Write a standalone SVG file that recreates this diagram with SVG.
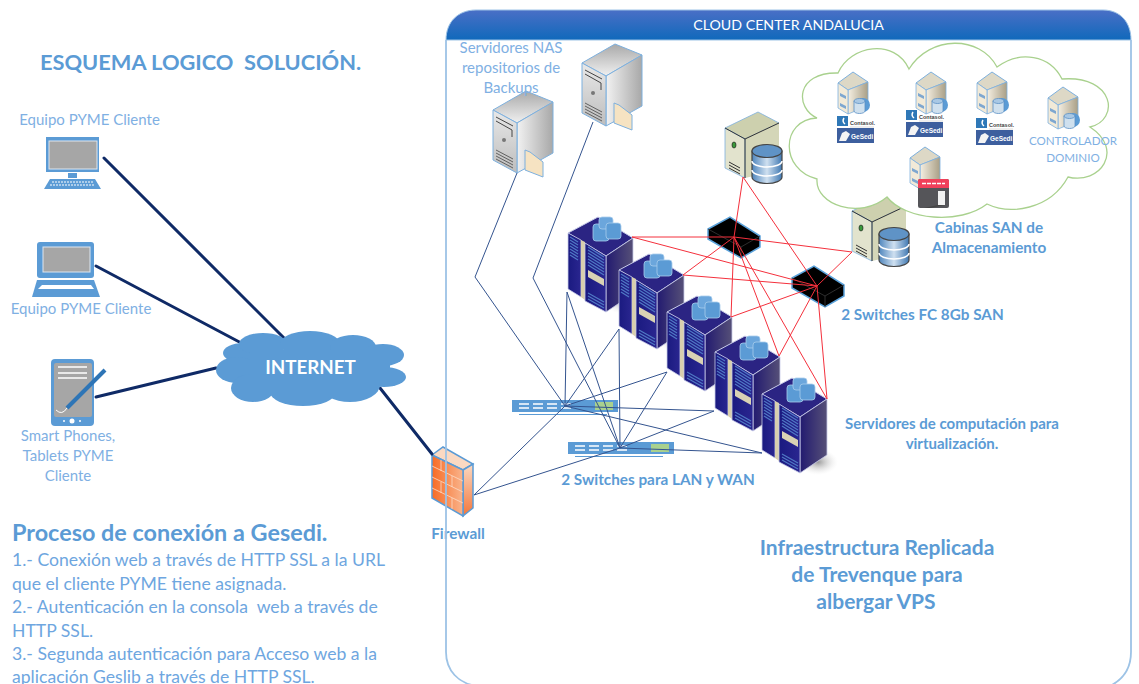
<svg xmlns="http://www.w3.org/2000/svg" width="1139" height="684" viewBox="0 0 1139 684">
<style>
text{font-family:"Lato","Liberation Sans",sans-serif;white-space:pre}
.h{fill:#5b9bd5;font-weight:700}
.b{fill:#5b9bd5;font-weight:700;font-size:15.300px;text-anchor:middle}
.l{fill:#7fb0e3;font-size:15px;text-anchor:middle}
.p{fill:#6ea6e0;font-size:17.600px}
.thick{stroke:#0f2a66;stroke-width:3;fill:none;stroke-linecap:round}
.blue{stroke:#34548f;stroke-width:1;fill:none}
.red{stroke:#f4303c;stroke-width:1;fill:none}
.gw{fill:#5b9bd5}
.scr{fill:#a6a6a6;stroke:#dde6f0;stroke-width:1}
</style>
<defs>
<linearGradient id="hdr" x1="0" y1="0" x2="0" y2="1"><stop offset="0" stop-color="#4a6fc6"/><stop offset="1" stop-color="#1069bb"/></linearGradient>
<linearGradient id="rf" x1="0" y1="0" x2="1" y2="0"><stop offset="0" stop-color="#1a1a80"/><stop offset="1" stop-color="#2a2690"/></linearGradient>
<linearGradient id="rs" x1="0" y1="0" x2="1" y2="0"><stop offset="0" stop-color="#221a70"/><stop offset="1" stop-color="#565078"/></linearGradient>
<linearGradient id="sv" x1="0" y1="0" x2="1" y2="0"><stop offset="0" stop-color="#f2f2f2"/><stop offset="1" stop-color="#a8a8a8"/></linearGradient>
<linearGradient id="svt" x1="0" y1="0" x2="0" y2="1"><stop offset="0" stop-color="#a9a9a9"/><stop offset="1" stop-color="#f0f0f0"/></linearGradient>
<linearGradient id="svf" x1="0" y1="0" x2="0" y2="1"><stop offset="0" stop-color="#e8e8e8"/><stop offset="1" stop-color="#bdbdbd"/></linearGradient>
<linearGradient id="fw" x1="0" y1="0" x2="1" y2="0"><stop offset="0" stop-color="#f76b25"/><stop offset="1" stop-color="#f9b48c"/></linearGradient>
<linearGradient id="fws" x1="0" y1="0" x2="0" y2="1"><stop offset="0" stop-color="#fbd9c2"/><stop offset="1" stop-color="#f2763a"/></linearGradient>
<linearGradient id="cyl" x1="0" y1="0" x2="1" y2="0"><stop offset="0" stop-color="#4f86bd"/><stop offset=".5" stop-color="#cfe0f0"/><stop offset="1" stop-color="#3f78b2"/></linearGradient>
<linearGradient id="ss" x1="0" y1="0" x2="1" y2="0"><stop offset="0" stop-color="#f5efe2"/><stop offset="1" stop-color="#a99f86"/></linearGradient>
<radialGradient id="shd"><stop offset="0" stop-color="#9a9a9a"/><stop offset="1" stop-color="#e8e8e8" stop-opacity="0"/></radialGradient>

<g id="rack">
<ellipse cx="56" cy="68" rx="20" ry="13" fill="url(#shd)"/>
<path d="M0,0 30,-16 65,5 38,23 Z" fill="#2b2483" stroke="#c8cce8" stroke-width="1"/>
<path d="M38,23 65,5 65,61 38,79 Z" fill="url(#rs)" stroke="#c8cce8" stroke-width=".8"/>
<path d="M0,0 13,7 13,64 0,56 Z" fill="url(#rf)" stroke="#c8cce8" stroke-width=".8"/>
<path d="M13,7 17,9 17,67 13,64 Z" fill="#d8cfae"/>
<path d="M17,10 38,23 38,79 17,68 Z" fill="url(#rf)" stroke="#c8cce8" stroke-width=".8"/>
<path d="M2,4 10,9 M2,7 10,12 M2,10 10,15 M2,13 10,18 M2,16 10,21 M2,19 10,24 M2,22 10,27 M20,14 36,24 M20,17 36,27 M20,20 36,30 M20,23 36,33 M20,26 36,36 M20,29 36,39 M20,32 36,42 M20,60 36,69 M20,63 36,72 M20,66 36,75" stroke="#4f78c4" stroke-width="1.300"/>
<path d="M20,37 36,46 36,53 20,44 Z" fill="#d9d2b4"/>
<rect x="25" y="-9" width="16" height="17" rx="3" fill="#5b9bd5" stroke="#a8cdec" stroke-width=".8"/>
<rect x="31" y="-16" width="14" height="12" rx="3" fill="#6ba6dc" stroke="#a8cdec" stroke-width=".8"/>
<rect x="38" y="-10" width="15" height="16" rx="3" fill="#5b9bd5" stroke="#a8cdec" stroke-width=".8"/>
</g>

<g id="nas">
<path d="M0,0 33,-19 60,-8 24,13 Z" fill="url(#svt)" stroke="#7db0de" stroke-width="1"/>
<path d="M24,13 60,-8 60,43 24,63 Z" fill="url(#sv)" stroke="#7db0de" stroke-width="1"/>
<path d="M0,0 24,13 24,63 0,50 Z" fill="url(#svf)" stroke="#7db0de" stroke-width="1"/>
<path d="M3,7 20,16 M3,11 19,20 19,27" stroke="#444" stroke-width="1" fill="none"/>
<circle cx="11" cy="30" r="2" fill="#777"/>
<path d="M3,40 20,49 M3,43 20,52 M3,46 20,55 M3,49 20,58" stroke="#555" stroke-width=".9"/>
<path d="M32,40 37,42 50,52 50,67 32,60 Z" fill="#f6e3c2" stroke="#7db0de" stroke-width="1"/>
</g>

<g id="storage">
<path d="M0,16 33,0 54,11 20,27 Z" fill="#cdd0ae" stroke="#7db0de" stroke-width=".8"/>
<path d="M20,27 54,11 54,58 20,66 Z" fill="#d4d6b8"/>
<path d="M0,16 20,27 20,66 0,56 Z" fill="#e2e3cd" stroke="#7db0de" stroke-width=".8"/>
<path d="M0,16 20,27 54,11 M20,27 20,66" stroke="#333" stroke-width="1" fill="none"/>
<ellipse cx="9" cy="33" rx="2" ry="3" fill="#3a9a3a" stroke="#222" stroke-width=".7"/>
<path d="M4,50 15,56 M4,53 15,59 M4,56 15,62" stroke="#333" stroke-width="1"/>
<path d="M27,39 V65 A15,6.500 0 0 0 57,65 V39 Z" fill="url(#cyl)" stroke="#444" stroke-width="1.200"/>
<ellipse cx="42" cy="39" rx="15" ry="6.500" fill="#5f93c6" stroke="#444" stroke-width="1.200"/>
<path d="M27,49 A15,6 0 0 0 57,49 M27,58 A15,6 0 0 0 57,58" stroke="#fff" stroke-width="1.500" fill="none"/>
</g>

<g id="fc">
<path d="M0,12 22,0 52,19 52,30 33,41 0,22 Z" fill="#000" stroke="#5ba3dc" stroke-width="1.500"/>
<path d="M0,12 33,30 52,19 M33,30 33,41" stroke="#3a3a3a" stroke-width=".8" fill="none"/>
</g>

<g id="lan">
<rect x="0" y="0" width="106" height="12" fill="#5b9bd5"/>
<path d="M7,4 H17 M7,8 H17 M21,4 H31 M21,8 H31 M35,4 H45 M35,8 H45 M49,4 H59 M49,8 H59" stroke="#fff" stroke-width="1.500"/>
<rect x="83" y="2" width="18" height="8" fill="#a9d18e"/>
<path d="M7,14.500 H95" stroke="#5b9bd5" stroke-width="1"/>
</g>

<g id="vm">
<path d="M0,11 15,0 30,10 10,18 Z" fill="#ddd8c6" stroke="#7db0de" stroke-width="1"/>
<path d="M10,18 30,10 30,34 10,42 Z" fill="url(#ss)" stroke="#7db0de" stroke-width=".8"/>
<path d="M0,11 10,18 10,42 0,36 Z" fill="#f2ead8" stroke="#7db0de" stroke-width=".8"/>
<path d="M2,21 8,24 8,27 2,24 Z M2,31 8,34 8,37 2,34 Z" fill="#7ea7d0"/>
</g>
<g id="cyl2">
<circle cx="25" cy="33" r="7" fill="#5b9bd5"/>
<path d="M16,29 V39 A5.500,2.500 0 0 0 27,39 V29 Z" fill="#cfe0ee" stroke="#5b8fc4" stroke-width=".8"/>
<ellipse cx="21.500" cy="29" rx="5.500" ry="2.500" fill="#a9c8e4" stroke="#5b8fc4" stroke-width=".8"/>
</g>
<g id="logo">
<rect x="0" y="1" width="11" height="10" fill="#2f78b7"/>
<path d="M7,3 A4.500,4.500 0 0 0 8,9" stroke="#fff" stroke-width="1.500" fill="none"/>
<text x="13" y="10" font-size="5.500" font-weight="700" fill="#444" style="font-family:'Liberation Sans',sans-serif">Contasol.</text>
<path d="M13,12 H37" stroke="#ddd" stroke-width="1"/>
<rect x="0" y="13" width="37" height="15" fill="#3d5f9e"/>
<path d="M2,26 5,18 9,16 13,19 9,26 Z" fill="#f4f4f4"/>
<text x="14" y="24" font-size="6.500" font-weight="700" fill="#fff" style="font-family:'Liberation Sans',sans-serif">GeSedi</text>
</g>
</defs>

<rect width="1139" height="684" fill="#fff"/>

<g id="panel-header">
<path d="M446,40 C446,22 458,10 476,10 H1103 C1120,10 1131,22 1131,40 Z" fill="url(#hdr)" stroke="#9dc3e6" stroke-width="1"/>
<text x="788.500" y="30" text-anchor="middle" font-size="14.200" fill="#fff">CLOUD CENTER ANDALUCIA</text>
</g>

<g id="storage-2"><use href="#storage" x="852" y="195"/></g>
<g id="vps-cloud">
<path d="M817,118 C795,108 795,72 838,73 C850,45 895,38 909,69 C930,35 980,35 997,67 C1020,50 1050,55 1062,79 C1115,75 1120,120 1090,127 C1125,150 1100,185 1068,177 C1050,210 1010,215 987,204 C960,225 905,220 887,197 C860,220 815,205 817,179 C780,170 780,120 817,118 Z" fill="#fff" stroke="#a9d18e" stroke-width="1.300"/>
</g>

<g id="firewall">
<path d="M432,455 443,447 473,464 463,470 Z" fill="#fbd9c2" stroke="#5b9bd5" stroke-width="1.500"/>
<path d="M463,470 473,464 473,508 463,516 Z" fill="url(#fws)" stroke="#5b9bd5" stroke-width="1.500"/>
<path d="M432,455 463,470 463,516 432,498 Z" fill="url(#fw)" stroke="#5b9bd5" stroke-width="1.500"/>
<path d="M432,466 463,481 M432,477 463,492 M432,488 463,503 M441,460 441,471 M452,476 452,487 M441,482 441,493 M452,498 452,509" stroke="#fbdcc8" stroke-width=".8" fill="none"/>
<text class="b" x="458" y="539">Firewall</text>
</g>

<path id="panel-border" d="M446,40 V652 C446,670 458,684 478,686 M1131,40 V652 C1131,670 1122,680 1110,686" fill="none" stroke="#9dc3e6" stroke-width="1.800"/>

<g id="rack-1"><use href="#rack" x="568" y="233"/></g>
<g id="rack-2"><use href="#rack" x="619" y="270"/></g>
<g id="rack-3"><use href="#rack" x="667" y="312"/></g>
<g id="rack-4"><use href="#rack" x="715" y="352"/></g>
<g id="rack-5"><use href="#rack" x="762" y="394"/></g>

<g id="nas-1"><use href="#nas" x="493" y="110"/></g>
<g id="nas-2"><use href="#nas" x="582" y="63"/></g>
<g id="nas-label">
<text class="l" x="511" y="53">Servidores NAS</text>
<text class="l" x="511" y="73">repositorios de</text>
<text class="l" x="511" y="93">Backups</text>
</g>

<g id="storage-1"><use href="#storage" x="725" y="112"/></g>
<g id="fc-1"><use href="#fc" x="708" y="217"/></g>
<g id="fc-2"><use href="#fc" x="792" y="266"/></g>
<g id="lan-1"><use href="#lan" x="512" y="400"/></g>
<g id="lan-2"><use href="#lan" x="568" y="442"/></g>

<g id="connectors">
<path class="thick" d="M104,158 287,341"/>
<path class="thick" d="M96,266 245,345"/>
<path class="thick" d="M96,397 216,368"/>
<path class="thick" d="M380,388 432,454"/>
<path class="blue" d="M517,173 475,277 565,406"/>
<path class="blue" d="M593,122 533,278 620,448"/>
<path class="blue" d="M474,495 565,406 M474,495 620,448"/>
<path class="blue" d="M567,292 565,406 M619,329 565,406 M667,372 565,406 M714,411 565,406 M762,453 565,406"/>
<path class="blue" d="M567,292 620,448 M619,329 620,448 M667,372 620,448 M714,411 620,448 M762,453 620,448"/>
<path class="red" d="M743,177 734,237 M743,177 817,286 M852,252 734,237 M852,252 817,286"/>
<path class="red" d="M632,237 734,237 M683,275 734,237 M731,317 734,237 M779,356 734,237 M827,399 734,237"/>
<path class="red" d="M632,237 817,286 M683,275 817,286 M731,317 817,286 M779,356 817,286 M827,399 817,286"/>
</g>

<g id="vm-1"><use href="#vm" x="838" y="72"/><use href="#cyl2" x="838" y="72"/><use href="#logo" x="837" y="115"/></g>
<g id="vm-2"><use href="#vm" x="916" y="72"/><use href="#cyl2" x="916" y="72"/><use href="#logo" x="906" y="109"/></g>
<g id="vm-3"><use href="#vm" x="977" y="72"/><use href="#cyl2" x="977" y="72"/><use href="#logo" x="976" y="117"/></g>
<g id="vm-4"><use href="#vm" x="1048" y="87"/><use href="#cyl2" x="1048" y="87"/>
<text x="1073" y="145" text-anchor="middle" font-size="11.600" fill="#7fb0e3">CONTROLADOR</text>
<text x="1073" y="162" text-anchor="middle" font-size="11.600" fill="#7fb0e3">DOMINIO</text></g>
<g id="vm-5"><use href="#vm" x="910" y="147"/>
<rect x="918" y="179" width="31" height="29" rx="2" fill="#555559"/>
<path d="M918,188 V181 a2,2 0 0 1 2,-2 H947 a2,2 0 0 1 2,2 V188 Z" fill="#f0405a"/>
<path d="M922,183.500 H945" stroke="#fff" stroke-width="1.500" stroke-dasharray="4 1"/>
<path d="M938,191 H945 V205 H938 Z" fill="#f2f2f2"/>
<path d="M938,205 H945 L930,208 H924 Z" fill="#444"/>
</g>

<g id="labels">
<text class="b" x="989" y="233">Cabinas SAN de</text>
<text class="b" x="989" y="253">Almacenamiento</text>
<text class="b" x="922.500" y="320">2 Switches FC 8Gb SAN</text>
<text class="b" x="952" y="429" style="font-size:15px">Servidores de computación para</text>
<text class="b" x="952" y="449" style="font-size:15px">virtualización.</text>
<text class="b" x="658" y="485">2 Switches para LAN y WAN</text>
<text class="b" x="877" y="555" style="font-size:21px">Infraestructura Replicada</text>
<text class="b" x="877" y="582" style="font-size:21px">de Trevenque para</text>
<text class="b" x="876" y="609" style="font-size:21px">albergar VPS</text>
<text class="h" x="40" y="70" font-size="21.800">ESQUEMA LOGICO  SOLUCIÓN.</text>
</g>

<g id="pc-desktop">
<text class="l" x="89.500" y="125">Equipo PYME Cliente</text>
<rect x="46" y="137" width="53" height="35" class="gw"/>
<rect x="49" y="141" width="48" height="28" class="scr"/>
<rect x="68" y="173" width="9" height="5" class="gw"/>
<path d="M50,179 H95 L101,189 H44 Z" class="gw"/>
<path d="M52,182 H93 M50,185 H95" stroke="#fff" stroke-width="1" stroke-dasharray="2 1"/>
</g>
<g id="pc-laptop">
<rect x="37" y="242" width="57" height="36" rx="3" class="gw"/>
<rect x="43" y="247" width="47" height="25" class="scr"/>
<path d="M37,280 H94 L100,297 H32 Z" class="gw"/>
<path d="M42,285 H91 L94,289 H38 Z" fill="#fff"/>
<text class="l" x="81" y="314">Equipo PYME Cliente</text>
</g>
<g id="pc-tablet">
<rect x="51" y="359" width="43" height="67" rx="4" class="gw"/>
<rect x="54" y="363" width="38" height="54" rx="2" fill="#a6a6a6"/>
<path d="M58,367 H87 M58,373 H87 M58,378 H87" stroke="#fff" stroke-width="1.500"/>
<path d="M105,370 L67,408" stroke="#2e75b6" stroke-width="4"/>
<path d="M56,410 Q62,416 67,408" stroke="#fff" fill="none" stroke-width="1"/>
<circle cx="72" cy="421" r="2.500" fill="#fff"/><circle cx="64" cy="421" r="1" fill="#fff"/><circle cx="80" cy="421" r="1" fill="#fff"/>
<text class="l" x="68" y="441">Smart Phones,</text>
<text class="l" x="68" y="461">Tablets PYME</text>
<text class="l" x="68" y="481">Cliente</text>
</g>

<g id="internet" fill="#5b9bd5">
<ellipse cx="243" cy="353" rx="20" ry="10"/><ellipse cx="263" cy="344" rx="24" ry="11"/><ellipse cx="310" cy="344" rx="30" ry="13"/><ellipse cx="353" cy="347" rx="23" ry="12"/><ellipse cx="383" cy="355" rx="21" ry="11"/><ellipse cx="384" cy="377" rx="22" ry="10"/><ellipse cx="237" cy="370" rx="21" ry="13"/><ellipse cx="253" cy="388" rx="22" ry="14"/><ellipse cx="303" cy="392" rx="33" ry="14"/><ellipse cx="350" cy="385" rx="30" ry="17"/><rect x="250" y="350" width="140" height="30"/><rect x="250" y="380" width="117" height="12"/>
<text x="310.500" y="374" text-anchor="middle" font-size="18.800" font-weight="700" fill="#fff">INTERNET</text>
</g>

<g id="process-text">
<text class="h" x="12" y="541" font-size="23.400">Proceso de conexión a Gesedi.</text>
<text class="p" x="12" y="566">1.- Conexión web a través de HTTP SSL a la URL</text>
<text class="p" x="12" y="590">que el cliente PYME tiene asignada.</text>
<text class="p" x="12" y="613">2.- Autenticación en la consola  web a través de</text>
<text class="p" x="12" y="637">HTTP SSL.</text>
<text class="p" x="12" y="660">3.- Segunda autenticación para Acceso web a la</text>
<text class="p" x="12" y="683">aplicación Geslib a través de HTTP SSL.</text>
</g>
</svg>
